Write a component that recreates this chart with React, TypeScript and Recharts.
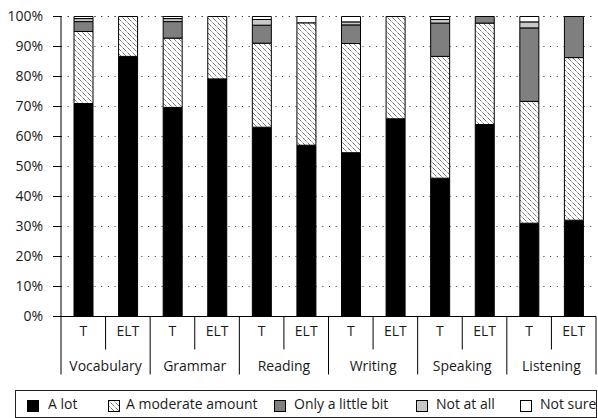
import React from 'react';
import { BarChart, Bar, XAxis, YAxis, CartesianGrid } from 'recharts';

const skills = ['Vocabulary', 'Grammar', 'Reading', 'Writing', 'Speaking', 'Listening'];
const sources = ['T', 'ELT'];
const yTicks = [0, 10, 20, 30, 40, 50, 60, 70, 80, 90, 100];

// Values in percent, order: Vocabulary T, Vocabulary ELT, Grammar T, Grammar ELT, ...
const aLot = [71.0, 86.7, 69.7, 79.2, 63.1, 57.1, 54.6, 65.9, 46.1, 64.0, 31.1, 32.1];
const moderate = [24.0, 13.3, 23.1, 20.8, 28.0, 40.8, 36.4, 34.1, 40.6, 33.8, 40.6, 54.2];
const little = [3.3, 0, 5.5, 0, 6.0, 0, 6.2, 0, 11.1, 2.2, 24.5, 13.7];
const notAtAll = [1.0, 0, 1.0, 0, 1.9, 0, 1.0, 0, 1.2, 0, 2.0, 0];
const notSure = [0.7, 0, 0.7, 0, 1.0, 2.1, 1.8, 0, 1.0, 0, 1.8, 0];

const seriesNames = ['A lot', 'A moderate amount', 'Only a little bit', 'Not at all', 'Not sure'];
const seriesKeys = ['aLot', 'moderate', 'little', 'notAtAll', 'notSure'];
const seriesFills = ['#000000', 'url(#hatch)', '#7f7f7f', '#c8c8c8', '#ffffff'];

const data = skills.flatMap((skill, si) =>
  sources.map((src, ri) => {
    const i = si * 2 + ri;
    return {
      key: `${skill}|${src}`,
      skill,
      src,
      aLot: aLot[i],
      moderate: moderate[i],
      little: little[i],
      notAtAll: notAtAll[i],
      notSure: notSure[i],
    };
  })
);

const W = 598;
const H = 418;
const LEFT = 61;
const RIGHT_M = 2;
const BAND = (W - LEFT - RIGHT_M) / data.length;
const FONT = '"Open Sans", sans-serif';
const TEXT = '#1a1a1a';

const HatchPattern = ({ id }: { id: string }) => (
  <pattern id={id} patternUnits="userSpaceOnUse" width={5} height={5}>
    <rect width={5} height={5} fill="#fff" />
    <path
      d="M-1,-1 L6,6 M-1,4 L1,6 M4,-1 L6,1"
      stroke="#000"
      strokeWidth={0.8}
      strokeDasharray="1 0.9"
    />
  </pattern>
);

const XTick = (props: any) => {
  const { x, y, payload, index } = props;
  const [skill, src] = String(payload.value).split('|');
  const half = BAND / 2;
  const isT = index % 2 === 0;
  return (
    <g>
      <text x={x} y={y + 19} textAnchor="middle" fontSize={14} fontFamily={FONT} fill={TEXT}>
        {src}
      </text>
      {index === 0 && <line x1={x - half} x2={x - half} y1={y} y2={y + 58} stroke="#000" strokeWidth={1} />}
      <line x1={x + half} x2={x + half} y1={y} y2={isT ? y + 33 : y + 58} stroke="#000" strokeWidth={1} />
      {!isT && (
        <text x={x - half} y={y + 54} textAnchor="middle" fontSize={14} fontFamily={FONT} fill={TEXT}>
          {skill}
        </text>
      )}
    </g>
  );
};

const legendSquareX = [11, 92, 258, 400, 504];
const legendTextX = [32, 110, 278, 420, 524];

const Legend2 = () => (
  <div
    style={{
      position: 'absolute',
      left: 15,
      top: 390,
      width: 582,
      height: 28,
      boxSizing: 'border-box',
      border: '1px solid #222',
      fontFamily: FONT,
      fontSize: 14,
      color: TEXT,
    }}
  >
    {seriesNames.map((name, i) => (
      <React.Fragment key={name}>
        <svg
          width={12}
          height={12}
          style={{ position: 'absolute', left: legendSquareX[i], top: 9 }}
        >
          <defs>
            <HatchPattern id={`lhatch${i}`} />
          </defs>
          <rect
            x={0.5}
            y={0.5}
            width={11}
            height={11}
            fill={seriesKeys[i] === 'moderate' ? `url(#lhatch${i})` : seriesFills[i]}
            stroke="#000"
            strokeWidth={1}
          />
        </svg>
        <span style={{ position: 'absolute', left: legendTextX[i], top: 3, lineHeight: '20px', whiteSpace: 'nowrap' }}>
          {name}
        </span>
      </React.Fragment>
    ))}
  </div>
);

export default function App() {
  return (
    <div style={{ position: 'absolute', left: 0, top: 0, width: W, height: H, background: '#fff' }}>
      <BarChart
        width={W}
        height={H}
        data={data}
        margin={{ top: 16.5, right: RIGHT_M, left: 0, bottom: 0 }}
        barSize={19}
      >
        <defs>
          <HatchPattern id="hatch" />
        </defs>
        <CartesianGrid vertical={false} stroke="#333" strokeDasharray="1 5.7" />
        <XAxis
          dataKey="key"
          interval={0}
          height={101.5}
          tickLine={false}
          tickSize={0}
          tickMargin={0}
          axisLine={{ stroke: '#000' }}
          tick={<XTick />}
        />
        <YAxis
          width={LEFT}
          domain={[0, 100]}
          ticks={yTicks}
          interval={0}
          tickFormatter={(v: number) => `${v}%`}
          tickSize={8}
          tickMargin={10}
          axisLine={{ stroke: '#000' }}
          tickLine={{ stroke: '#000' }}
          tick={{ fontSize: 14, fontFamily: FONT, fill: TEXT }}
        />
        {seriesKeys.map((k, i) => (
          <Bar
            key={k}
            dataKey={k}
            name={seriesNames[i]}
            stackId="s"
            fill={seriesFills[i]}
            stroke="#000"
            strokeWidth={1}
            isAnimationActive={false}
          />
        ))}
      </BarChart>
      <Legend2 />
    </div>
  );
}
